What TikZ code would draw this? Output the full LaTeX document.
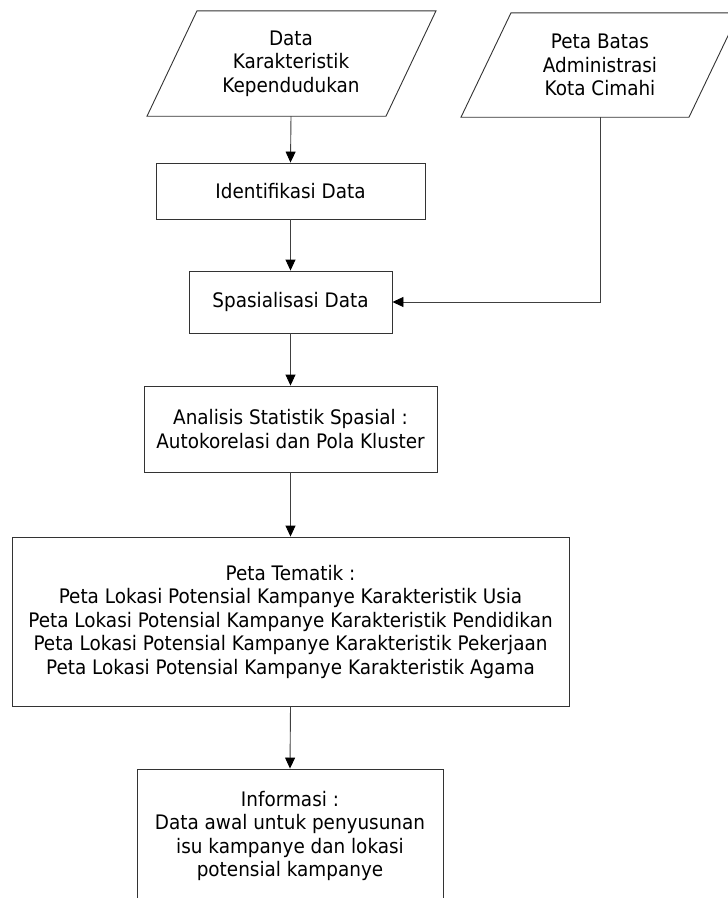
\documentclass[tikz,border=0pt]{standalone}
\usepackage{fontspec}
\setmainfont{DejaVu Sans}[FakeStretch=0.92]
\usetikzlibrary{arrows.meta,calc}
\begin{document}
\begin{tikzpicture}[x=1pt,y=-1pt,
  every node/.style={font=\fontsize{20}{23.5}\selectfont, align=center, inner sep=0pt},
  boxnode/.style={draw=black!80, line width=0.9pt, rectangle},
  txtnode/.style={rectangle},
  para/.style={draw=black!80, line width=0.9pt, line join=miter},
  arr/.style={draw=black!75, line width=0.9pt, -{Triangle[width=10pt,length=11pt,color=black,fill=black]}}]
\clip (0,0) rectangle (728,898);
\fill[white] (0,0) rectangle (728,898);

% input parallelograms
\node[txtnode, minimum width=180pt, minimum height=105pt] (d1) at (291,63.5)
  {Data\\Karakteristik\\Kependudukan};
\draw[para] ($(d1.south)+(-144,0)$) -- ($(d1.south)+(95,0)$) -- ($(d1.north)+(145,0)$) -- ($(d1.north)+(-94,0)$) -- cycle;

\node[txtnode, minimum width=170pt, minimum height=104pt] (d2) at (600,65)
  {Peta Batas\\Administrasi\\Kota Cimahi};
\draw[para] ($(d2.south)+(-139,0)$) -- ($(d2.south)+(89,0)$) -- ($(d2.north)+(139,0)$) -- ($(d2.north)+(-89,0)$) -- cycle;

% process boxes
\node[boxnode, minimum width=269pt, minimum height=56pt] (ident) at (290.5,191) {Identifikasi Data};
\node[boxnode, minimum width=203pt, minimum height=62pt] (spas) at (290.5,302) {Spasialisasi Data};
\node[boxnode, minimum width=293pt, minimum height=86pt] (anal) at (290.5,429)
  {Analisis Statistik Spasial :\\Autokorelasi dan Pola Kluster};
\node[boxnode, minimum width=557pt, minimum height=169pt] (peta) at (290.5,621.5)
  {Peta Tematik :\\Peta Lokasi Potensial Kampanye Karakteristik Usia\\Peta Lokasi Potensial Kampanye Karakteristik Pendidikan\\Peta Lokasi Potensial Kampanye Karakteristik Pekerjaan\\Peta Lokasi Potensial Kampanye Karakteristik Agama};
\node[boxnode, minimum width=306pt, minimum height=134pt] (info) at (290,836)
  {Informasi :\\Data awal untuk penyusunan\\isu kampanye dan lokasi\\potensial kampanye};

% connectors
\draw[arr] (d1.south) -- (ident.north);
\draw[arr] (ident.south) -- (spas.north);
\draw[arr] (d2.south) |- (spas.east);
\draw[arr] (spas.south) -- (anal.north);
\draw[arr] (anal.south) -- (peta.north);
\draw[arr] (peta.south) -- (info.north);
\end{tikzpicture}
\end{document}
